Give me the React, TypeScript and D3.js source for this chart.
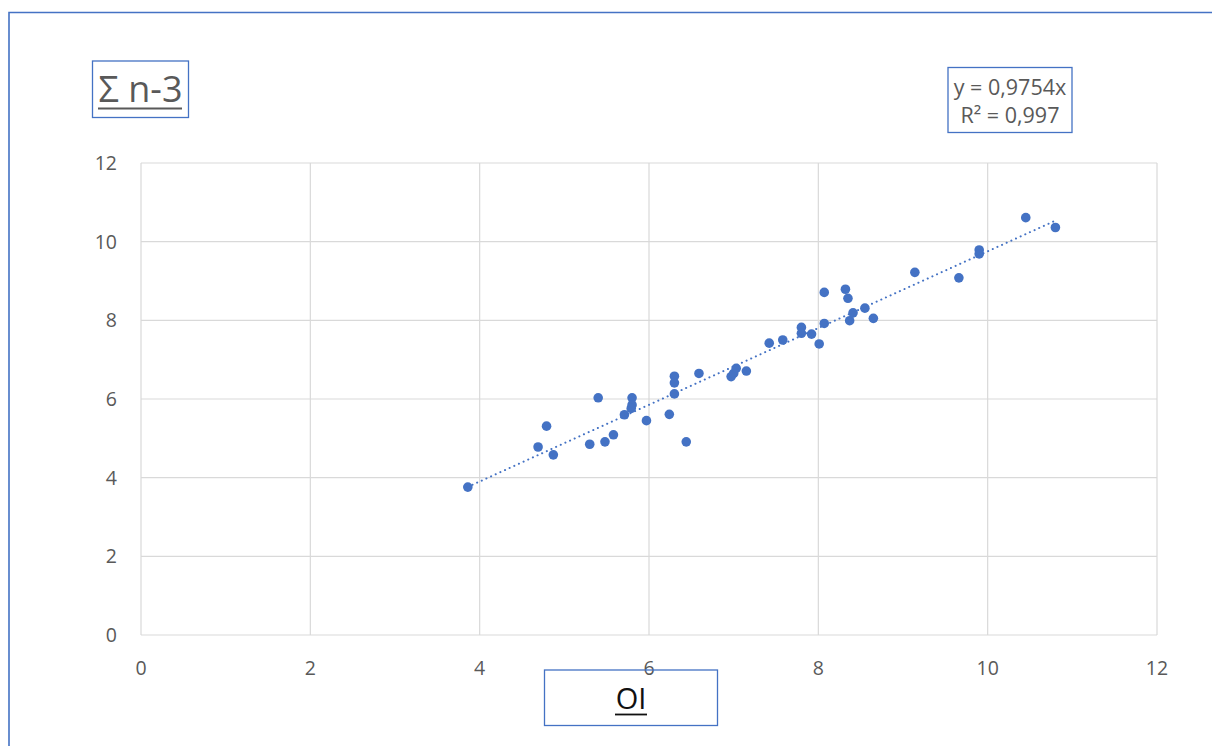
import React from "react";
import * as d3 from "d3";

const xValues = [
  3.86, 4.69, 4.79, 4.87, 5.3, 5.4, 5.48, 5.58, 5.71, 5.8, 5.8, 5.79, 5.97, 6.24, 6.3, 6.3, 6.3, 6.44,
  6.59, 6.97, 7.0, 7.03, 7.15, 7.42, 7.58, 7.8, 7.8, 7.92, 8.01, 8.07, 8.07, 8.32, 8.35, 8.37, 8.41,
  8.55, 8.65, 9.14, 9.66, 9.9, 9.9, 10.45, 10.8,
];
const yValues = [
  3.76, 4.78, 5.31, 4.58, 4.85, 6.03, 4.91, 5.09, 5.6, 6.03, 5.85, 5.76, 5.45, 5.61, 6.58, 6.41, 6.13, 4.91,
  6.65, 6.57, 6.65, 6.78, 6.71, 7.42, 7.5, 7.82, 7.67, 7.65, 7.4, 7.92, 8.71, 8.79, 8.56, 7.99, 8.19,
  8.31, 8.05, 9.22, 9.08, 9.79, 9.69, 10.61, 10.36,
];
const xTicks = [0, 2, 4, 6, 8, 10, 12];
const yTicks = [0, 2, 4, 6, 8, 10, 12];
const slope = 0.9754;
const titleText = "Σ n-3";
const xLabelText = "OI";
const eqLine1 = "y = 0,9754x";
const eqLine2 = "R² = 0,997";

const BLUE = "#4472C4";
const GRID = "#d9d9d9";
const TXT = "#595959";
const FONT = "'Open Sans', 'Noto Sans', sans-serif";

export default function App() {
  const W = 1212;
  const H = 746;
  const x = d3.scaleLinear().domain([0, 12]).range([141, 1157]);
  const y = d3.scaleLinear().domain([0, 12]).range([635, 163]);
  const xmin = d3.min(xValues) as number;
  const xmax = d3.max(xValues) as number;
  const trend = d3
    .line<number>()
    .x((d) => x(d))
    .y((d) => y(slope * d))([xmin, xmax]);

  return (
    <svg
      width={W}
      height={H}
      style={{ position: "absolute", left: 0, top: 0, background: "#fff" }}
      fontFamily={FONT}
    >
      <rect x={0} y={0} width={W} height={H} fill="#fff" />
      {/* outer border */}
      <path d={`M9,${H} L9,12.5 L${W},12.5`} fill="none" stroke={BLUE} strokeWidth={1.6} />

      {/* gridlines */}
      {yTicks.map((t) => (
        <line key={"gy" + t} x1={x(0)} x2={x(12)} y1={y(t)} y2={y(t)} stroke={GRID} strokeWidth={1.2} />
      ))}
      {xTicks.map((t) => (
        <line key={"gx" + t} x1={x(t)} x2={x(t)} y1={y(0)} y2={y(12)} stroke={GRID} strokeWidth={1.2} />
      ))}

      {/* tick labels */}
      {yTicks.map((t) => (
        <text
          key={"ly" + t}
          x={117}
          y={y(t)}
          dy="0.36em"
          textAnchor="end"
          fontSize={19.5}
          fill={TXT}
        >
          {t}
        </text>
      ))}
      {xTicks.map((t) => (
        <text key={"lx" + t} x={x(t)} y={668} dy="0.36em" textAnchor="middle" fontSize={19.5} fill={TXT}>
          {t}
        </text>
      ))}

      {/* points */}
      {xValues.map((xv, i) => (
        <circle key={"p" + i} cx={x(xv)} cy={y(yValues[i])} r={4.8} fill={BLUE} />
      ))}

      {/* trendline */}
      <path
        d={trend || ""}
        fill="none"
        stroke={BLUE}
        strokeWidth={2}
        strokeDasharray="0.1 5"
        strokeLinecap="round"
      />

      {/* title */}
      <rect x={92.5} y={61} width={96} height={56.5} fill="none" stroke={BLUE} strokeWidth={1.3} />
      <text x={140.5} y={101.5} textAnchor="middle" fontSize={36} fill={TXT}>
        {titleText}
      </text>
      <line x1={98} x2={182} y1={108.5} y2={108.5} stroke={TXT} strokeWidth={2.2} />

      {/* equation */}
      <rect x={948} y={67.5} width={124} height={65} fill="#fff" stroke={BLUE} strokeWidth={1.3} />
      <text x={1010} y={94.5} textAnchor="middle" fontSize={21.5} fill={TXT}>
        {eqLine1}
      </text>
      <text x={1010} y={123} textAnchor="middle" fontSize={21.5} fill={TXT}>
        {eqLine2}
      </text>

      {/* x axis label */}
      <rect x={544.5} y={670} width={173} height={55.5} fill="none" stroke={BLUE} strokeWidth={1.3} />
      <text x={631} y={709} textAnchor="middle" fontSize={29} fill="#111">
        {xLabelText}
      </text>
      <line x1={615} x2={647} y1={714.5} y2={714.5} stroke="#111" strokeWidth={1.8} />
    </svg>
  );
}
